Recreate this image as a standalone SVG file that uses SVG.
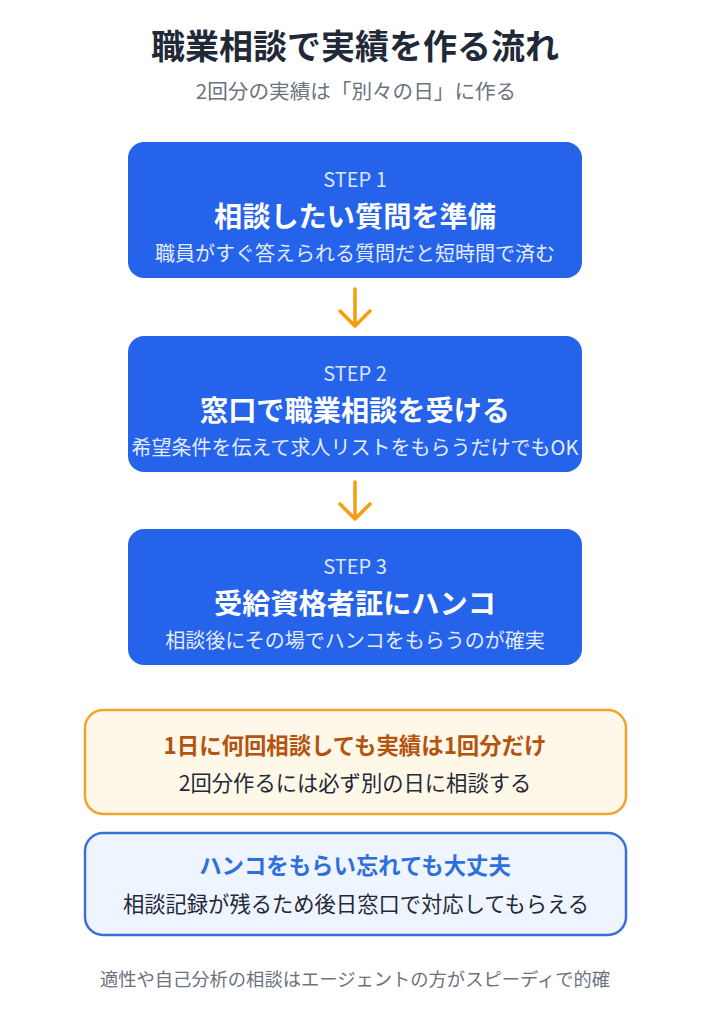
<svg xmlns="http://www.w3.org/2000/svg" width="711" height="1024" viewBox="0 0 711 1024">
<style>
text{font-family:"Noto Sans CJK JP","Noto Sans",sans-serif;text-anchor:middle}
.title{font-size:34px;font-weight:700;fill:#1f2937}
.subtitle{font-size:20.6px;fill:#6b7280}
.step{fill:#2563eb}
.lbl{font-size:20px;fill:#dbe7ff}
.main{font-size:28.2px;font-weight:700;fill:#ffffff}
.sub{font-size:20px;fill:#e3ecff}
.arrow{fill:none;stroke:#f59e0b;stroke-width:3.5;stroke-linecap:round;stroke-linejoin:round}
.warn{fill:#fff8e8;stroke:#f0a42c;stroke-width:2.5}
.info{fill:#eff5ff;stroke:#3a70d9;stroke-width:2.5}
.h-warn{font-size:22.4px;font-weight:700;fill:#b4530f}
.h-info{font-size:22.4px;font-weight:700;fill:#2f6fdc}
.body{font-size:21.3px;fill:#1f2937}
.foot{font-size:18.3px;fill:#6b7280}
</style>
<g id="header">
<text class="title" x="355" y="59">職業相談で実績を作る流れ</text>
<text class="subtitle" x="356" y="99">2回分の実績は「別々の日」に作る</text>
</g>
<g id="step1">
<rect class="step" x="128" y="142" width="454" height="136" rx="16"/>
<text class="lbl" x="355" y="187">STEP 1</text>
<text class="main" x="355" y="227">相談したい質問を準備</text>
<text class="sub" x="355" y="261">職員がすぐ答えられる質問だと短時間で済む</text>
</g>
<g id="step2">
<rect class="step" x="128" y="336" width="454" height="136" rx="16"/>
<text class="lbl" x="355" y="381">STEP 2</text>
<text class="main" x="355" y="421">窓口で職業相談を受ける</text>
<text class="sub" x="355" y="455">希望条件を伝えて求人リストをもらうだけでもOK</text>
</g>
<g id="step3">
<rect class="step" x="128" y="529" width="454" height="136" rx="16"/>
<text class="lbl" x="355" y="574">STEP 3</text>
<text class="main" x="355" y="614">受給資格者証にハンコ</text>
<text class="sub" x="355" y="648">相談後にその場でハンコをもらうのが確実</text>
</g>
<g id="connectors">
<path class="arrow" d="M355 289V326M340 311L355 326L370 311"/>
<path class="arrow" d="M355 482V519M340 504L355 519L370 504"/>
</g>
<g id="note-once">
<rect class="warn" x="85" y="710" width="541" height="104" rx="18"/>
<text class="h-warn" x="355" y="754">1日に何回相談しても実績は1回分だけ</text>
<text class="body" x="355" y="791">2回分作るには必ず別の日に相談する</text>
</g>
<g id="note-stamp">
<rect class="info" x="85" y="833" width="541" height="102" rx="18"/>
<text class="h-info" x="355" y="874">ハンコをもらい忘れても大丈夫</text>
<text class="body" x="356" y="912">相談記録が残るため後日窓口で対応してもらえる</text>
</g>
<g id="footer">
<text class="foot" x="355" y="986">適性や自己分析の相談はエージェントの方がスピーディで的確</text>
</g>
</svg>
